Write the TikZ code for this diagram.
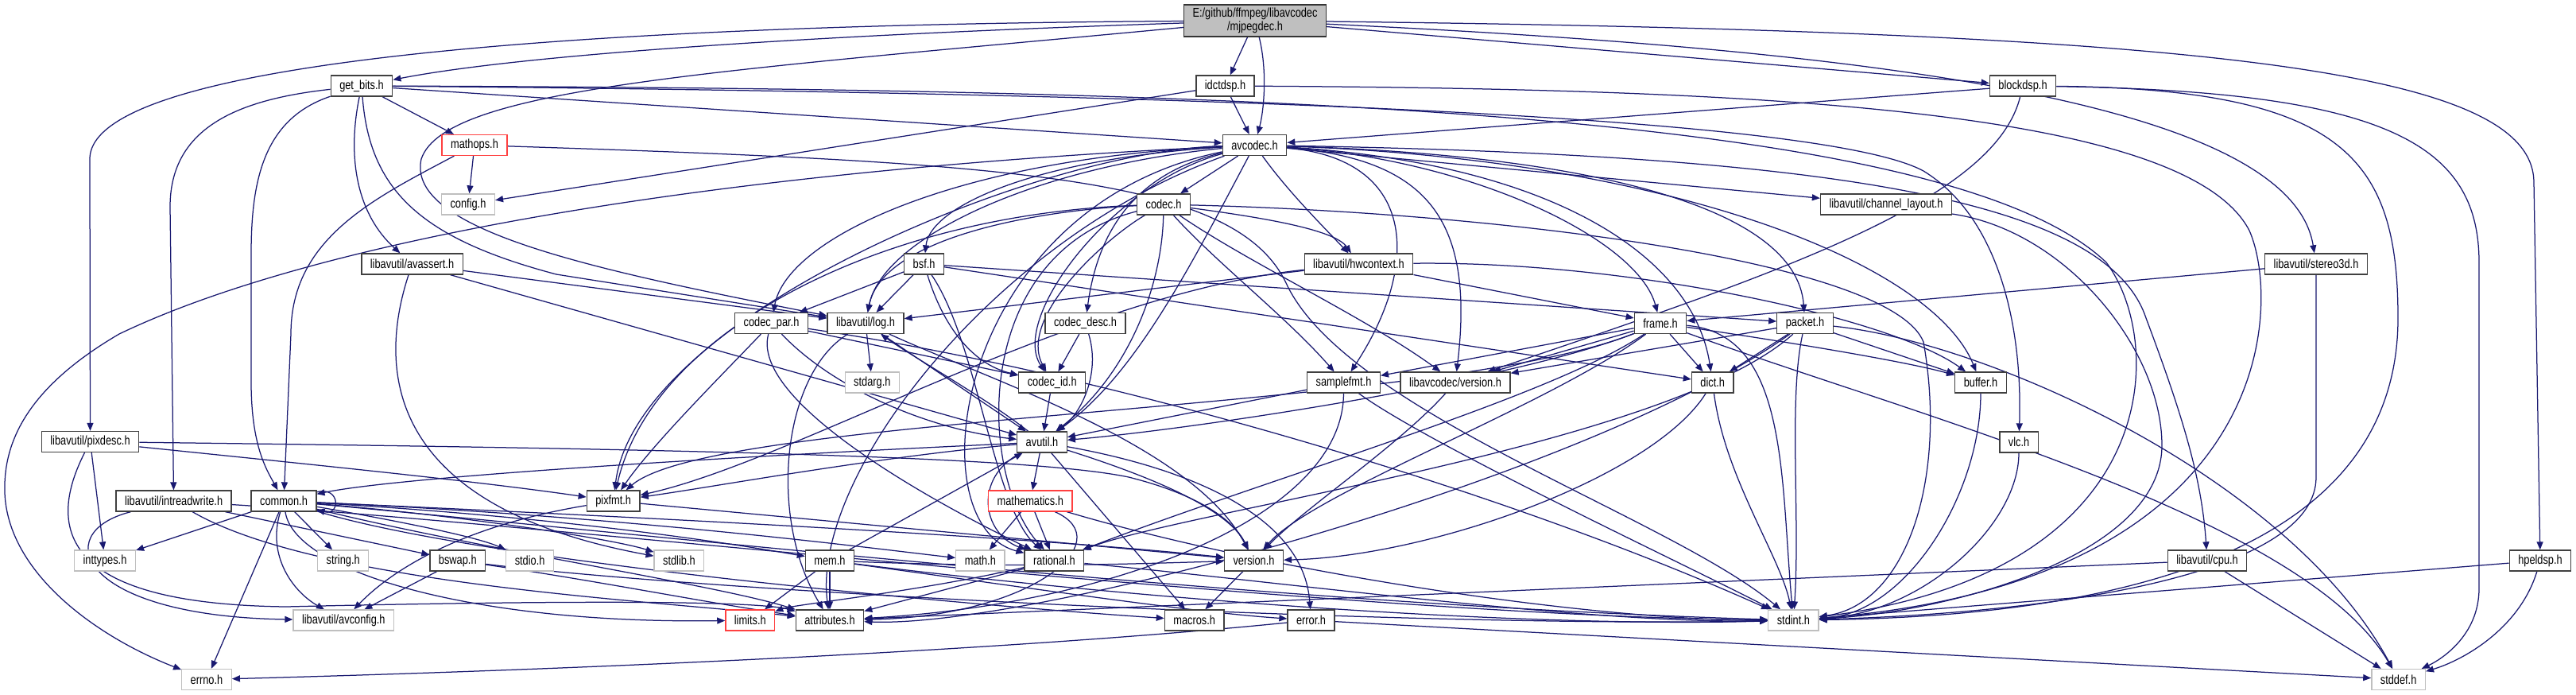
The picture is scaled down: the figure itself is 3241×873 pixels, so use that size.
\documentclass[tikz,border=0pt]{standalone}
\usepackage{fontspec}
\setmainfont{Liberation Sans}[FakeStretch=0.8]
\usetikzlibrary{arrows.meta}
\definecolor{Edge}{HTML}{191970}
\definecolor{Frame}{HTML}{404040}
\definecolor{Sys}{HTML}{BFBFBF}
\definecolor{Bad}{HTML}{FF4040}
\pgfdeclarelayer{paper}
\pgfdeclarelayer{edges}
\pgfsetlayers{paper,edges,main}

\begin{document}
\begin{tikzpicture}[x=1pt,y=-1pt,
      hdr/.style={draw=Frame,fill=white,line width=1.3pt,inner xsep=11pt,inner ysep=0pt,
        minimum height=26pt,font=\fontsize{16}{17}\selectfont},
      sys/.style={hdr,draw=Sys},
      bad/.style={hdr,draw=Bad},
      top/.style={hdr,fill=Sys,draw=black!80,align=center,minimum height=40pt},
      dep/.style={draw=Edge,line width=1.25pt,-{Triangle[length=10pt,width=8pt]}}]
      \useasboundingbox (0,0) rectangle (3241,873);
      \begin{pgfonlayer}{paper}
      \fill[white] (0,0) rectangle (3241,873);
      \end{pgfonlayer}
      \node[top] (root) at (1579,26) {E:/github/ffmpeg/libavcodec\\/mjpegdec.h};
      \node[hdr] (getbits) at (455,108) {get\_bits.h};
      \node[hdr] (idctdsp) at (1541.5,108) {idctdsp.h};
      \node[hdr] (blockdsp) at (2545,108) {blockdsp.h};
      \node[bad] (mathops) at (597,182.5) {mathops.h};
      \node[hdr] (avcodec) at (1578.5,182.5) {avcodec.h};
      \node[sys] (config) at (589,257) {config.h};
      \node[hdr] (codec) at (1464,257) {codec.h};
      \node[hdr] (chlayout) at (2373,257) {libavutil/channel\_layout.h};
      \node[hdr] (avassert) at (518.5,332) {libavutil/avassert.h};
      \node[hdr] (bsf) at (1162.6,332) {bsf.h};
      \node[hdr] (hwctx) at (1709.5,332) {libavutil/hwcontext.h};
      \node[hdr] (stereo) at (2914,332) {libavutil/stereo3d.h};
      \node[hdr] (codecpar) at (970.5,406.5) {codec\_par.h};
      \node[hdr] (log) at (1089,406.5) {libavutil/log.h};
      \node[hdr] (codecdesc) at (1365.5,406.5) {codec\_desc.h};
      \node[hdr] (frame) at (2089,406.5) {frame.h};
      \node[hdr] (packet) at (2271,406.5) {packet.h};
      \node[sys] (stdarg) at (1097.3,481) {stdarg.h};
      \node[hdr] (codecid) at (1323.7,481) {codec\_id.h};
      \node[hdr] (samplefmt) at (1690.5,481) {samplefmt.h};
      \node[hdr] (lavcver) at (1831,481) {libavcodec/version.h};
      \node[hdr] (dict) at (2154.7,481) {dict.h};
      \node[hdr] (buffer) at (2492,481) {buffer.h};
      \node[hdr] (pixdesc) at (113.5,555.5) {libavutil/pixdesc.h};
      \node[hdr] (avutil) at (1311,556) {avutil.h};
      \node[hdr] (vlc) at (2540,556) {vlc.h};
      \node[hdr] (intrw) at (218.6,630) {libavutil/intreadwrite.h};
      \node[hdr] (common) at (357,630) {common.h};
      \node[hdr] (pixfmt) at (771.7,630) {pixfmt.h};
      \node[bad] (mathem) at (1296.3,630) {mathematics.h};
      \node[hdr] (cpu) at (2777,705) {libavutil/cpu.h};
      \node[hdr] (hpeldsp) at (3196,705) {hpeldsp.h};
      \node[sys] (inttypes) at (132,705) {inttypes.h};
      \node[sys] (string) at (431.7,705) {string.h};
      \node[hdr] (bswap) at (575.8,705) {bswap.h};
      \node[sys] (stdio) at (666.6,705) {stdio.h};
      \node[sys] (stdlib) at (854.4,705) {stdlib.h};
      \node[hdr] (mem) at (1044,705) {mem.h};
      \node[sys] (math) at (1233.3,705) {math.h};
      \node[hdr] (rational) at (1326.4,705) {rational.h};
      \node[hdr] (version) at (1577.5,705) {version.h};
      \node[sys] (avconfig) at (432.3,780) {libavutil/avconfig.h};
      \node[bad] (limits) at (943.8,780) {limits.h};
      \node[hdr] (attrib) at (1044,780) {attributes.h};
      \node[hdr] (macros) at (1502.7,780) {macros.h};
      \node[hdr] (error) at (1649.5,780) {error.h};
      \node[sys] (stdint) at (2256.4,780) {stdint.h};
      \node[sys] (errno) at (260,854.5) {errno.h};
      \node[sys] (stddef) at (3017.6,854.5) {stddef.h};
      \begin{pgfonlayer}{edges}
      \draw[dep] (root) .. controls (1000,45) and (650,70) .. (getbits);
      \draw[dep] (root) -- (idctdsp);
      \draw[dep] (root) .. controls (1595,90) and (1590,140) .. (avcodec);
      \draw[dep] (root) -- (blockdsp);
      \draw[dep] (root) .. controls (2800,40) and (3188,90) .. (3188,230) -- (hpeldsp);
      \draw[dep] (root) .. controls (2300,60) and (2880,120) .. (stereo);
      \draw[dep] (root) .. controls (900,30) and (113,60) .. (113,200) -- (pixdesc);
      \draw[dep] (root) .. controls (900,90) and (560,110) .. (530,200) .. controls (510,290) and (750,340) .. (log);
      \draw[dep] (getbits) -- (avcodec);
      \draw[dep] (getbits) -- (mathops);
      \draw[dep] (getbits) .. controls (300,125) and (214,160) .. (214,260) -- (intrw);
      \draw[dep] (getbits) .. controls (330,150) and (316,230) .. (316,320) -- (316,480) .. controls (316,560) and (335,590) .. (common);
      \draw[dep] (getbits) .. controls (436,200) and (450,270) .. (avassert);
      \draw[dep] (getbits) .. controls (465,240) and (530,300) .. (700,345) -- (log);
      \draw[dep] (getbits) .. controls (1600,112) and (2450,140) .. (2650,330) .. controls (2725,430) and (2725,720) .. (stdint);
      \draw[dep] (getbits) .. controls (1600,118) and (2300,150) .. (2420,215) .. controls (2510,270) and (2545,400) .. (vlc);
      \draw[dep] (idctdsp) -- (config);
      \draw[dep] (idctdsp) -- (avcodec);
      \draw[dep] (idctdsp) .. controls (2200,112) and (2750,135) .. (2830,290) .. controls (2870,380) and (2868,730) .. (stdint);
      \draw[dep] (blockdsp) -- (avcodec);
      \draw[dep] (blockdsp) .. controls (2510,250) and (2250,340) .. (lavcver);
      \draw[dep] (blockdsp) .. controls (2950,112) and (3017,200) .. (3017,400) .. controls (3017,720) and (2600,775) .. (stdint);
      \draw[dep] (blockdsp) .. controls (3000,115) and (3119,180) .. (3119,330) -- (3119,740) .. controls (3119,800) and (3070,830) .. (stddef);
      \draw[dep] (mathops) -- (config);
      \draw[dep] (mathops) .. controls (470,250) and (366,300) .. (366,420) -- (common);
      \draw[dep] (mathops) .. controls (1300,205) and (1560,225) .. (1620,360) .. controls (1700,520) and (2100,650) .. (stdint);
      \draw[dep] (avcodec) -- (codec);
      \draw[dep] (avcodec) -- (chlayout);
      \draw[dep] (avcodec) .. controls (2300,195) and (2650,250) .. (2700,400) .. controls (2745,520) and (2770,600) .. (cpu);
      \draw[dep] (avcodec) .. controls (2100,200) and (2430,330) .. (buffer);
      \draw[dep] (avcodec) .. controls (2000,195) and (2260,260) .. (packet);
      \draw[dep] (avcodec) .. controls (1950,205) and (2130,320) .. (dict);
      \draw[dep] (avcodec) .. controls (1850,200) and (2060,300) .. (frame);
      \draw[dep] (avcodec) .. controls (1620,240) and (1660,280) .. (hwctx);
      \draw[dep] (avcodec) .. controls (1800,200) and (1855,280) .. (lavcver);
      \draw[dep] (avcodec) .. controls (1780,200) and (1790,330) .. (samplefmt);
      \draw[dep] (avcodec) .. controls (1300,210) and (1110,300) .. (log);
      \draw[dep] (avcodec) .. controls (1300,200) and (1170,260) .. (bsf);
      \draw[dep] (avcodec) .. controls (1200,200) and (990,300) .. (codecpar);
      \draw[dep] (avcodec) .. controls (1420,220) and (1380,300) .. (codecdesc);
      \draw[dep] (avcodec) .. controls (1400,230) and (1270,400) .. (codecid);
      \draw[dep] (avcodec) .. controls (1500,330) and (1430,470) .. (avutil);
      \draw[dep] (avcodec) .. controls (1300,190) and (800,400) .. (pixfmt);
      \draw[dep] (avcodec) .. controls (1200,260) and (1150,660) .. (rational);
      \draw[dep] (avcodec) .. controls (1250,300) and (1020,600) .. (attrib);
      \draw[dep] (avcodec) .. controls (900,215) and (400,300) .. (150,420) .. controls (30,490) and (4,560) .. (6,620) .. controls (10,720) and (120,800) .. (errno);
      \draw[dep] (codec) .. controls (1600,275) and (1680,290) .. (hwctx);
      \draw[dep] (codec) .. controls (1900,268) and (2380,330) .. (2420,430) .. controls (2450,600) and (2400,760) .. (stdint);
      \draw[dep] (codec) .. controls (1462,360) and (1420,470) .. (avutil);
      \draw[dep] (codec) .. controls (1390,300) and (1280,400) .. (codecid);
      \draw[dep] (codec) .. controls (1570,330) and (1720,400) .. (lavcver);
      \draw[dep] (codec) .. controls (1530,330) and (1620,400) .. (samplefmt);
      \draw[dep] (codec) .. controls (1300,265) and (1110,300) .. (log);
      \draw[dep] (codec) .. controls (1100,270) and (820,420) .. (pixfmt);
      \draw[dep] (codec) .. controls (1220,320) and (1230,600) .. (rational);
      \draw[dep] (codecpar) .. controls (1050,490) and (1170,540) .. (avutil);
      \draw[dep] (codecpar) .. controls (900,480) and (820,560) .. (pixfmt);
      \draw[dep] (codecpar) .. controls (945,500) and (1150,620) .. (rational);
      \draw[dep] (codecpar) -- (codecid);
      \draw[dep] (codecpar) .. controls (1400,470) and (1900,620) .. (stdint);
      \draw[dep] (codecdesc) -- (codecid);
      \draw[dep] (codecdesc) .. controls (1385,470) and (1360,520) .. (avutil);
      \draw[dep] (codecid) -- (avutil);
      \draw[dep] (bsf) -- (codecpar);
      \draw[dep] (bsf) -- (log);
      \draw[dep] (bsf) .. controls (1190,420) and (1230,460) .. (codecid);
      \draw[dep] (bsf) -- (dict);
      \draw[dep] (bsf) -- (packet);
      \draw[dep] (bsf) .. controls (1230,430) and (1250,640) .. (rational);
      \draw[dep] (hwctx) -- (frame);
      \draw[dep] (hwctx) .. controls (2050,328) and (2380,400) .. (buffer);
      \draw[dep] (hwctx) -- (log);
      \draw[dep] (hwctx) .. controls (1350,370) and (1000,580) .. (pixfmt);
      \draw[dep] (stereo) -- (frame);
      \draw[dep] (stereo) -- (2914,600) .. controls (2914,720) and (2600,770) .. (stdint);
      \draw[dep] (log) -- (stdarg);
      \draw[dep] (log) -- (avutil);
      \draw[dep] (log) .. controls (985,470) and (965,650) .. (attrib);
      \draw[dep] (log) .. controls (1250,480) and (1500,560) .. (version);
      \draw[dep] (avutil) .. controls (1240,500) and (1150,450) .. (log);
      \draw[dep] (avutil) -- (mathem);
      \draw[dep] (avutil) .. controls (900,575) and (500,600) .. (common);
      \draw[dep] (avutil) .. controls (1100,575) and (900,612) .. (pixfmt);
      \draw[dep] (avutil) .. controls (1225,600) and (1235,670) .. (rational);
      \draw[dep] (avutil) .. controls (1450,600) and (1545,640) .. (version);
      \draw[dep] (avutil) -- (macros);
      \draw[dep] (avutil) .. controls (1500,590) and (1640,650) .. (error);
      \draw[dep] (mathem) -- (math);
      \draw[dep] (mathem) -- (rational);
      \draw[dep] (mathem) .. controls (1410,680) and (1300,775) .. (attrib);
      \draw[dep] (mathem) .. controls (1600,720) and (2000,780) .. (stdint);
      \draw[dep] (mem) -- (limits);
      \draw[dep] (mem) -- (attrib);
      \draw[dep] (mem) -- (avutil);
      \draw[dep] (mem) .. controls (1300,740) and (1500,770) .. (error);
      \draw[dep] (mem) .. controls (1400,750) and (1900,790) .. (stdint);
      \draw[dep] (mem) .. controls (1300,715) and (1450,708) .. (version);
      \draw[dep] (rational) -- (attrib);
      \draw[dep] (rational) .. controls (1150,745) and (1000,760) .. (limits);
      \draw[dep] (rational) .. controls (1600,730) and (2000,785) .. (stdint);
      \draw[dep] (version) -- (macros);
      \draw[dep] (common) -- (inttypes);
      \draw[dep] (common) -- (string);
      \draw[dep] (common) -- (errno);
      \draw[dep] (common) .. controls (335,700) and (370,745) .. (avconfig);
      \draw[dep] (common) .. controls (500,655) and (600,675) .. (stdio);
      \draw[dep] (common) .. controls (600,650) and (780,680) .. (stdlib);
      \draw[dep] (common) .. controls (700,650) and (900,680) .. (mem);
      \draw[dep] (common) .. controls (800,650) and (1100,690) .. (math);
      \draw[dep] (common) .. controls (370,720) and (600,785) .. (limits);
      \draw[dep] (common) .. controls (600,690) and (900,735) .. (attrib);
      \draw[dep] (common) .. controls (600,705) and (1200,760) .. (macros);
      \draw[dep] (common) .. controls (800,650) and (1300,675) .. (version);
      \draw[dep] (common) .. controls (900,680) and (1600,760) .. (stdint);
      \draw[dep] (common.15) .. controls +(30,-8) and +(30,8) .. (common.-15);
      \draw[dep] (intrw) -- (bswap);
      \draw[dep] (intrw) .. controls (60,670) and (100,775) .. (avconfig);
      \draw[dep] (intrw) .. controls (400,735) and (820,755) .. (attrib);
      \draw[dep] (intrw) .. controls (700,660) and (1700,775) .. (stdint);
      \draw[dep] (bswap) -- (avconfig);
      \draw[dep] (bswap) .. controls (750,730) and (900,760) .. (attrib);
      \draw[dep] (bswap) .. controls (900,745) and (1800,790) .. (stdint);
      \draw[dep] (pixfmt) .. controls (560,665) and (480,730) .. (avconfig);
      \draw[dep] (pixfmt) -- (version);
      \draw[dep] (pixdesc) -- (inttypes);
      \draw[dep] (pixdesc) .. controls (400,585) and (600,605) .. (pixfmt);
      \draw[dep] (pixdesc) .. controls (900,565) and (1300,575) .. (1420,600) .. controls (1500,620) and (1550,650) .. (version);
      \draw[dep] (pixdesc) .. controls (50,680) and (100,760) .. (360,763) .. controls (700,755) and (950,755) .. (attrib);
      \draw[dep] (frame) -- (samplefmt);
      \draw[dep] (frame) -- (lavcver);
      \draw[dep] (frame) -- (dict);
      \draw[dep] (frame) .. controls (2250,430) and (2400,455) .. (buffer);
      \draw[dep] (frame) .. controls (1900,480) and (1500,540) .. (avutil);
      \draw[dep] (frame) .. controls (1800,520) and (900,520) .. (pixfmt);
      \draw[dep] (frame) .. controls (1950,500) and (1600,600) .. (rational);
      \draw[dep] (frame) .. controls (1950,510) and (1650,620) .. (version);
      \draw[dep] (frame) .. controls (2250,420) and (2240,600) .. (stdint);
      \draw[dep] (frame) .. controls (2400,520) and (2900,650) .. (stddef);
      \draw[dep] (samplefmt) -- (avutil);
      \draw[dep] (samplefmt) .. controls (1690,650) and (1400,760) .. (attrib);
      \draw[dep] (samplefmt) .. controls (1800,560) and (2100,700) .. (stdint);
      \draw[dep] (lavcver) .. controls (1760,560) and (1640,640) .. (version);
      \draw[dep] (dict) .. controls (2170,600) and (2240,700) .. (stdint);
      \draw[dep] (dict) .. controls (2080,600) and (1800,700) .. (version);
      \draw[dep] (buffer) .. controls (2492,620) and (2400,770) .. (stdint);
      \draw[dep] (packet) -- (dict);
      \draw[dep] (packet) -- (buffer);
      \draw[dep] (packet) -- (lavcver);
      \draw[dep] (packet) .. controls (2100,560) and (1500,640) .. (rational);
      \draw[dep] (packet) .. controls (2000,600) and (1300,790) .. (attrib);
      \draw[dep] (packet) .. controls (2250,500) and (2265,650) .. (stdint);
      \draw[dep] (packet) .. controls (2500,430) and (2880,600) .. (stddef);
      \draw[dep] (chlayout) .. controls (2600,290) and (2720,440) .. (2720,560) .. controls (2720,700) and (2450,770) .. (stdint);
      \draw[dep] (cpu) -- (attrib);
      \draw[dep] (cpu) -- (stddef);
      \draw[dep] (hpeldsp) -- (stdint);
      \draw[dep] (hpeldsp) .. controls (3170,790) and (3100,830) .. (stddef);
      \draw[dep] (vlc) .. controls (2540,660) and (2420,770) .. (stdint);
      \draw[dep] (error) .. controls (1300,815) and (800,840) .. (errno);
      \draw[dep] (error) -- (stddef);
      \draw[dep] (avassert) -- (log);
      \draw[dep] (avassert) -- (avutil);
      \draw[dep] (avassert) .. controls (470,480) and (500,640) .. (stdlib);
      \end{pgfonlayer}
    \end{tikzpicture}
\end{document}
